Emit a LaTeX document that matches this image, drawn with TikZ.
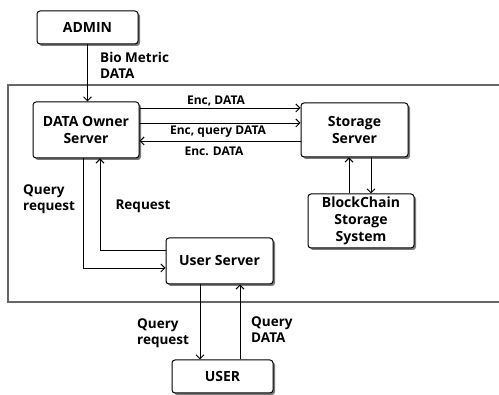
\documentclass[tikz,border=0pt]{standalone}
\usepackage{fontspec}
\setmainfont{Open Sans}
\usetikzlibrary{arrows.meta,shadows}
\begin{document}
\begin{tikzpicture}[x=1pt,y=-1pt,
 box/.style={draw=black, line width=1pt, rounded corners=3pt, fill=white, align=center,
   font=\fontsize{14}{17}\selectfont\bfseries, inner sep=0pt,
   drop shadow={shadow xshift=2pt, shadow yshift=-2pt, fill=black!65, opacity=0.8}},
 lbl/.style={font=\fontsize{13.5}{16}\selectfont\bfseries, align=left, inner sep=0pt},
 enc/.style={font=\fontsize{12}{14}\selectfont\bfseries, inner sep=0pt},
 conn/.style={line width=0.9pt, -{Straight Barb[length=4pt,width=8pt,line width=1pt]}},
 frame/.style={draw=black!60, line width=1.2pt}
]
\useasboundingbox (0,0) rectangle (499,395);
\draw[frame] (500,85) -- (8,85) -- (8,302) -- (500,302);

\node[box, minimum width=101pt, minimum height=33pt] (admin) at (87.5,27.5) {ADMIN};
\node[box, minimum width=106pt, minimum height=56pt] (owner) at (86,130) {DATA Owner\\Server};
\node[box, minimum width=107pt, minimum height=54pt] (storage) at (354.5,130) {Storage\\Server};
\node[box, minimum width=106pt, minimum height=54pt] (chain) at (361,221) {BlockChain\\Storage\\System};
\node[box, minimum width=107pt, minimum height=46pt] (userserver) at (219.5,261) {User Server};
\node[box, minimum width=101pt, minimum height=33pt] (user) at (222.5,376.5) {USER};

\draw[conn] (admin.south) -- (admin.south |- owner.north);
\draw[conn] ([yshift=22pt]owner.east) -- ([yshift=22pt]storage.west);
\draw[conn] ([yshift=7pt]owner.east) -- ([yshift=7pt]storage.west);
\draw[conn] ([yshift=-11pt]storage.west) -- ([yshift=-11pt]owner.east);
\draw[conn] ([xshift=-12pt]chain.north) -- ([xshift=-12pt]chain.north |- storage.south);
\draw[conn] ([xshift=10pt]chain.north |- storage.south) -- ([xshift=10pt]chain.north);
\draw[conn] ([yshift=11pt]userserver.west) -| ([xshift=14pt]owner.south);
\draw[conn] ([xshift=-3pt]owner.south) |- ([yshift=-7pt]userserver.west);
\draw[conn] ([xshift=-19.5pt]userserver.south) -- ([xshift=-19.5pt]userserver.south |- user.north);
\draw[conn] ([xshift=20.5pt]userserver.south |- user.north) -- ([xshift=20.5pt]userserver.south);

\node[lbl, anchor=west] (bio) at (100,65) {Bio Metric\\DATA};
\node[enc] (enc1) at (216,101) {Enc, DATA};
\node[enc] (enc2) at (218,132) {Enc, query DATA};
\node[enc] (enc3) at (214,151) {Enc. DATA};
\node[lbl, anchor=west] (qr1) at (23,199) {Query\\request};
\node[lbl] (req) at (143,206) {Request};
\node[lbl, anchor=west] (qr2) at (137,333) {Query\\request};
\node[lbl, anchor=west] (qd) at (251,330) {Query\\DATA};
\end{tikzpicture}
\end{document}
